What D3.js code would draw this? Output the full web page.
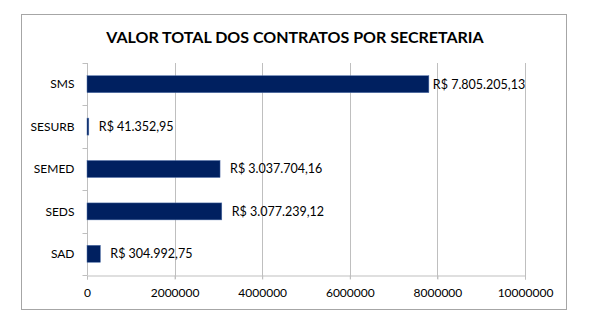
<!DOCTYPE html>
<html><head><meta charset="utf-8">
<script src="https://cdn.jsdelivr.net/npm/d3@7"></script>
<style>body{margin:0;background:#fff;}svg{display:block;}text{font-family:Lato,"Open Sans",sans-serif;fill:#000;}</style>
</head><body><svg id="c" width="590" height="324"></svg>
<script>
const categories = ["SMS","SESURB","SEMED","SEDS","SAD"];
const values = [7805205.13, 41352.95, 3037704.16, 3077239.12, 304992.75];
const valueLabels = ["R$ 7.805.205,13","R$ 41.352,95","R$ 3.037.704,16","R$ 3.077.239,12","R$ 304.992,75"];
const xTicks = [0,2000000,4000000,6000000,8000000,10000000];
const title = "VALOR TOTAL DOS CONTRATOS POR SECRETARIA";

const svg = d3.select("#c");
svg.append("rect").attr("x",21.5).attr("y",14.5).attr("width",545).attr("height",295)
  .attr("fill","#fff").attr("stroke","#a6a6a6").attr("stroke-width",1);
svg.append("text").attr("x",295).attr("y",43).attr("text-anchor","middle")
  .attr("font-size",16).attr("font-weight","bold").text(title);

const x = d3.scaleLinear().domain([0,10000000]).range([87,525]);
const y = d3.scaleBand().domain(categories).range([63,275]).paddingInner(0.6).paddingOuter(0.3);
const bandStep = (275-63)/categories.length;

// gridlines
svg.append("g").selectAll("line").data(xTicks.slice(1)).join("line")
  .attr("x1",d=>Math.round(x(d))+0.5).attr("x2",d=>Math.round(x(d))+0.5)
  .attr("y1",63).attr("y2",279).attr("stroke","#bfbfbf");

// x axis
const xa = svg.append("g").attr("transform","translate(0,275.5)")
  .call(d3.axisBottom(x).tickValues(xTicks).tickFormat(d3.format("d")).tickSize(4).tickPadding(9));
xa.select(".domain").attr("stroke","#bfbfbf");
xa.selectAll(".tick line").attr("stroke","#bfbfbf");
xa.selectAll("text").attr("font-size",12).style("font-family","Lato,sans-serif");

// y axis
const ya = svg.append("g").attr("transform","translate(87.5,0)");
ya.append("line").attr("x1",0).attr("x2",0).attr("y1",63).attr("y2",275).attr("stroke","#bfbfbf");
ya.selectAll("line.t").data(d3.range(categories.length+1)).join("line").attr("class","t")
  .attr("x1",-5).attr("x2",0).attr("y1",d=>Math.round(63+d*bandStep)+0.5).attr("y2",d=>Math.round(63+d*bandStep)+0.5)
  .attr("stroke","#bfbfbf");
ya.selectAll("text").data(categories).join("text")
  .attr("x",-13).attr("y",d=>y(d)+y.bandwidth()/2).attr("dy","0.35em")
  .attr("text-anchor","end").attr("font-size",12).text(d=>d);

// bars
svg.append("g").selectAll("rect").data(categories).join("rect")
  .attr("x",x(0)).attr("y",d=>y(d)).attr("height",y.bandwidth())
  .attr("width",(d,i)=>Math.max(1,x(values[i])-x(0)))
  .attr("fill","#002060").attr("stroke","#4f6fa8").attr("stroke-width",0.5);

// labels
svg.append("g").selectAll("text").data(categories).join("text")
  .attr("x",(d,i)=>x(values[i]) + (x(values[i])+100 > x.range()[1] ? 4 : 10))
  .attr("y",d=>y(d)+y.bandwidth()/2).attr("dy","0.35em")
  .attr("font-size",12.5).text((d,i)=>valueLabels[i]);
</script></body></html>
